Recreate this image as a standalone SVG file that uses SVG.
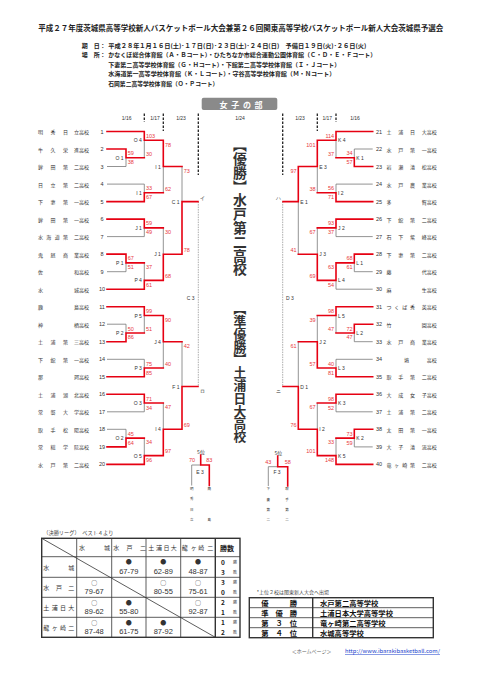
<svg xmlns="http://www.w3.org/2000/svg" width="481" height="680" viewBox="0 0 481 680">
<style>
text{font-family:'Noto Sans CJK JP','Noto Sans',sans-serif;dominant-baseline:central}
.nm{font-size:5px;fill:#333}
.no{font-family:'Liberation Sans',sans-serif;font-size:5.5px;fill:#333;text-anchor:middle}
.sl{font-family:'Liberation Sans',sans-serif;font-size:5.5px;fill:#e8383d}
.sr{font-family:'Liberation Sans',sans-serif;font-size:5.5px;fill:#e8383d;text-anchor:end}
.sc{font-family:'Liberation Sans',sans-serif;font-size:5.5px;fill:#e8383d;text-anchor:middle}
.ml{font-family:'Liberation Sans',sans-serif;font-size:5px;fill:#333;text-anchor:end}
.mr{font-family:'Liberation Sans',sans-serif;font-size:5px;fill:#333}
.mc{font-family:'Liberation Sans',sans-serif;font-size:5px;fill:#333;text-anchor:middle}
.hd{font-size:6px;font-weight:bold;fill:#222}
.dt{font-family:'Liberation Sans',sans-serif;font-size:5px;fill:#333;text-anchor:middle}
.tiny{font-size:3.5px;fill:#333;text-anchor:middle}
.big{font-weight:bold;fill:#333;writing-mode:vertical-rl}
.th{font-size:6px;fill:#333}
.sym{fill:#333;text-anchor:middle}
.scr{font-family:'Liberation Sans',sans-serif;font-size:7.5px;fill:#333;text-anchor:middle}
.res{font-size:7.3px;font-weight:bold;fill:#111}
.resc{font-size:7.3px;font-weight:bold;fill:#111;text-anchor:middle}
.r{fill:none;stroke:#e60012;stroke-width:1.6;stroke-linecap:square}
.g{fill:none;stroke:#777;stroke-width:0.8}
.dash{fill:none;stroke:#222;stroke-width:1.3;stroke-dasharray:2.5 1.5}
.dot{fill:none;stroke:#888;stroke-width:0.7;stroke-dasharray:1.5 1}
.tb{fill:none;stroke:#333;stroke-width:0.8}
.tbo{fill:none;stroke:#333;stroke-width:1.4}
</style>
<rect width="481" height="680" fill="#fff"/>

<g id="header">
<text x="38.3" y="27.3" font-size="7.5" font-weight="bold" fill="#222" textLength="405" lengthAdjust="spacingAndGlyphs">平成２７年度茨城県高等学校新人バスケットボール大会兼第２６回関東高等学校バスケットボール新人大会茨城県予選会</text>
<text class="hd" x="81.7" y="45">期　日：</text>
<text class="hd" x="108.3" y="45" textLength="258" lengthAdjust="spacingAndGlyphs">平成２８年１月１６日(土)･１７日(日)･２３日(土)･２４日(日)　予備日１９日(火)･２６日(火)</text>
<text class="hd" x="81.7" y="54.5">場　所：</text>
<text class="hd" x="108.3" y="54.5" textLength="268" lengthAdjust="spacingAndGlyphs">かなくぼ総合体育館（Ａ・Ｂコート）・ひたちなか市総合運動公園体育館（Ｃ・Ｄ・Ｅ・Ｆコート）</text>
<text class="hd" x="108.3" y="64" textLength="232" lengthAdjust="spacingAndGlyphs">下妻第二高等学校体育館（Ｇ・Ｈコート）・下館第二高等学校体育館（Ｉ・Ｊコート）</text>
<text class="hd" x="108.3" y="73.5" textLength="227" lengthAdjust="spacingAndGlyphs">水海道第一高等学校体育館（Ｋ・Ｌコート）・守谷高等学校体育館（Ｍ・Ｎコート）</text>
<text class="hd" x="108.3" y="83.3" textLength="110" lengthAdjust="spacingAndGlyphs">石岡第二高等学校体育館（Ｏ・Ｐコート）</text>
</g>

<g id="banner">
<rect x="201.7" y="97.7" width="75.6" height="12.3" rx="2" fill="#8a8a8a"/>
<text x="223.5 235.2 246.9 258.6" y="104" font-size="8" font-weight="bold" fill="#fff" text-anchor="middle">女子の部</text>
</g>

<g id="dates">
<text class="dt" x="126.7" y="117.5">1/16</text>
<text class="dt" x="155" y="117.5">1/17</text>
<text class="dt" x="181" y="117.5">1/23</text>
<text class="dt" x="240" y="117.5">1/24</text>
<text class="dt" x="300" y="117.5">1/23</text>
<text class="dt" x="327.3" y="117.5">1/17</text>
<text class="dt" x="355" y="117.5">1/16</text>
</g>

<g id="connectors">
<path class="dash" d="M144.3 113.5V122M163.3 113.5V131M198.3 113.5V175M282.7 113.5V175M317.3 113.5V131M336 113.5V122"/>
<path class="dot" d="M198.3 201.6V386.5M282.7 201.6V386.5"/>
<path class="g" d="M107 166.5H126M107 184.1H144.3M107 236.6H144.3M107 271.7H126M107 324.2H126M107 359.3H144.3M107 411.8H144.3M107 429.3H126
M126 157.8V166.5M144.3 140.3V157.8M144.3 184.1V192.8M163.3 166.5V192.8M144.3 227.9V236.6M126 262.9V271.7M144.3 262.9V280.4M163.3 227.9V254.2M182 166.5V201.6M126 324.2V333M144.3 315.5V333M144.3 359.3V368M163.3 341.7V368M144.3 403V411.8M126 429.3V438.1M144.3 438.1V455.6M163.3 403V429.3M182 341.7V386.5
M372.7 149H354.3M372.7 184.1H336M372.7 236.6H336M372.7 271.7H354.3M372.7 289.2H336M372.7 341.7H354.3M372.7 359.3H336M372.7 411.8H336M372.7 446.9H354.3
M354.3 149V157.8M336 140.3V157.8M336 184.1V192.8M317.3 166.5V192.8M336 227.9V236.6M354.3 262.9V271.7M336 280.4V289.2M317.3 227.9V254.2M298.3 201.6V254.2M354.3 333V341.7M336 315.5V333M336 359.3V368M317.3 315.5V341.7M336 403V411.8M354.3 438.1V446.9M336 438.1V455.6M317.3 403V429.3M298.3 341.7V386.5
M200.7 465H191.7V485.5M277.7 466.7H268.3V486"/>
<path class="r" d="M107 131.5H144.3M107 149H126M107 201.6H144.3M107 219.1H144.3M107 254.1H126M107 289.2H144.3M107 306.7H144.3M107 341.7H126M107 376.8H144.3M107 394.3H144.3M107 446.9H126M107 464.4H144.3
M126 149V157.8H144.3M144.3 131.5V140.3H163.3M144.3 201.6V192.8H163.3M163.3 140.3V166.5H182M144.3 219.1V227.9H163.3M126 254.1V262.9H144.3M144.3 289.2V280.4H163.3M163.3 280.4V254.2H182M182 254.2V201.6H198M126 341.7V333H144.3M144.3 306.7V315.5H163.3M144.3 376.8V368H163.3M163.3 315.5V341.7H182M144.3 394.3V403H163.3M126 446.9V438.1H144.3M144.3 464.4V455.6H163.3M163.3 455.6V429.3H182M182 429.3V386.5H198
M372.7 131.5H336M372.7 166.5H354.3M372.7 201.6H336M372.7 219.1H336M372.7 254.1H354.3M372.7 306.7H336M372.7 324.2H354.3M372.7 376.8H336M372.7 394.3H336M372.7 429.3H354.3M372.7 464.4H336
M354.3 166.5V157.8H336M336 131.5V140.3H317.3M336 201.6V192.8H317.3M317.3 140.3V166.5H298.3M336 219.1V227.9H317.3M354.3 254.1V262.9H336M336 262.9V280.4H317.3M317.3 280.4V254.2H298.3M298.3 166.5V201.6H283M354.3 324.2V333H336M336 306.7V315.5H317.3M336 376.8V368H317.3M317.3 368V341.7H298.3M336 394.3V403H317.3M354.3 429.3V438.1H336M336 464.4V455.6H317.3M317.3 455.6V429.3H298.3M298.3 429.3V386.5H283
M200.7 455V465H209.3V485.5M277.7 456V466.7H287.7V486"/>
</g>

<g id="t1"><text class="nm" x="38 50.5 63 74" y="131.5">明秀日立高校</text><text class="no" x="102" y="131.5">1</text></g>
<g id="t2"><text class="nm" x="38 50.5 63 74" y="149">牛久栄進高校</text><text class="no" x="102" y="149">2</text></g>
<g id="t3"><text class="nm" x="38 50.5 63 74" y="166.5">鉾田第二高校</text><text class="no" x="102" y="166.5">3</text></g>
<g id="t4"><text class="nm" x="38 50.5 63 74" y="184.1">日立第二高校</text><text class="no" x="102" y="184.1">4</text></g>
<g id="t5"><text class="nm" x="38 50.5 63 74" y="201.6">下妻第一高校</text><text class="no" x="102" y="201.6">5</text></g>
<g id="t6"><text class="nm" x="38 50.5 63 74" y="219.1">鉾田第一高校</text><text class="no" x="102" y="219.1">6</text></g>
<g id="t7"><text class="nm" x="38 46.3 54.7 63 74" y="236.6">水海道第二高校</text><text class="no" x="102" y="236.6">7</text></g>
<g id="t8"><text class="nm" x="38 50.5 63 74" y="254.1">鬼怒商業高校</text><text class="no" x="102" y="254.1">8</text></g>
<g id="t9"><text class="nm" x="38 74" y="271.7">佐和高校</text><text class="no" x="102" y="271.7">9</text></g>
<g id="t10"><text class="nm" x="38 74" y="289.2">水城高校</text><text class="no" x="102" y="289.2">10</text></g>
<g id="t11"><text class="nm" x="38 74" y="306.7">鹿島高校</text><text class="no" x="102" y="306.7">11</text></g>
<g id="t12"><text class="nm" x="38 74" y="324.2">神栖高校</text><text class="no" x="102" y="324.2">12</text></g>
<g id="t13"><text class="nm" x="38 50.5 63 74" y="341.7">土浦第三高校</text><text class="no" x="102" y="341.7">13</text></g>
<g id="t14"><text class="nm" x="38 50.5 63 74" y="359.3">下館第一高校</text><text class="no" x="102" y="359.3">14</text></g>
<g id="t15"><text class="nm" x="38 74" y="376.8">那珂高校</text><text class="no" x="102" y="376.8">15</text></g>
<g id="t16"><text class="nm" x="38 50.5 63 74" y="394.3">土浦湖北高校</text><text class="no" x="102" y="394.3">16</text></g>
<g id="t17"><text class="nm" x="38 50.5 63 74" y="411.8">常磐大学高校</text><text class="no" x="102" y="411.8">17</text></g>
<g id="t18"><text class="nm" x="38 50.5 63 74" y="429.3">取手松陽高校</text><text class="no" x="102" y="429.3">18</text></g>
<g id="t19"><text class="nm" x="38 50.5 63 74" y="446.9">常総学院高校</text><text class="no" x="102" y="446.9">19</text></g>
<g id="t20"><text class="nm" x="38 50.5 63 74" y="464.4">水戸第二高校</text><text class="no" x="102" y="464.4">20</text></g>

<g id="t21"><text class="no" x="379" y="131.5">21</text><text class="nm" x="386.5 398.2 410 421.7" y="131.5">土浦日大高校</text></g>
<g id="t22"><text class="no" x="379" y="149">22</text><text class="nm" x="386.5 398.2 410 421.7" y="149">水戸第一高校</text></g>
<g id="t23"><text class="no" x="379" y="166.5">23</text><text class="nm" x="386.5 398.2 410 421.7" y="166.5">岩瀬清松高校</text></g>
<g id="t24"><text class="no" x="379" y="184.1">24</text><text class="nm" x="386.5 398.2 410 421.7" y="184.1">水戸農業高校</text></g>
<g id="t25"><text class="no" x="379" y="201.6">25</text><text class="nm" x="386.5 421.7" y="201.6">多賀高校</text></g>
<g id="t26"><text class="no" x="379" y="219.1">26</text><text class="nm" x="386.5 398.2 410 421.7" y="219.1">下館第二高校</text></g>
<g id="t27"><text class="no" x="379" y="236.6">27</text><text class="nm" x="386.5 398.2 410 421.7" y="236.6">石下紫峰高校</text></g>
<g id="t28"><text class="no" x="379" y="254.1">28</text><text class="nm" x="386.5 398.2 410 421.7" y="254.1">下妻第二高校</text></g>
<g id="t29"><text class="no" x="379" y="271.7">29</text><text class="nm" x="386.5 421.7" y="271.7">藤代高校</text></g>
<g id="t30"><text class="no" x="379" y="289.2">30</text><text class="nm" x="386.5 421.7" y="289.2">麻生高校</text></g>
<g id="t31"><text class="no" x="379" y="306.7">31</text><text class="nm" x="386.5 394.3 402.2 410 421.7" y="306.7">つくば秀英高校</text></g>
<g id="t32"><text class="no" x="379" y="324.2">32</text><text class="nm" x="386.5 421.7" y="324.2">竹園高校</text></g>
<g id="t33"><text class="no" x="379" y="341.7">33</text><text class="nm" x="386.5 398.2 410 421.7" y="341.7">水戸商業高校</text></g>
<g id="t34"><text class="no" x="379" y="359.3">34</text><text class="nm" x="404 426.7" y="359.3">境高校</text></g>
<g id="t35"><text class="no" x="379" y="376.8">35</text><text class="nm" x="386.5 398.2 410 421.7" y="376.8">取手第二高校</text></g>
<g id="t36"><text class="no" x="379" y="394.3">36</text><text class="nm" x="386.5 398.2 410 421.7" y="394.3">大成女子高校</text></g>
<g id="t37"><text class="no" x="379" y="411.8">37</text><text class="nm" x="386.5 398.2 410 421.7" y="411.8">土浦第二高校</text></g>
<g id="t38"><text class="no" x="379" y="429.3">38</text><text class="nm" x="386.5 398.2 410 421.7" y="429.3">太田第一高校</text></g>
<g id="t39"><text class="no" x="379" y="446.9">39</text><text class="nm" x="386.5 398.2 410 421.7" y="446.9">大子清流高校</text></g>
<g id="t40"><text class="no" x="379" y="464.4">40</text><text class="nm" x="386.5 394.3 402.2 410 421.7" y="464.4">竜ヶ崎第二高校</text></g>

<g id="mO1"><text class="ml" x="123.5" y="157.8">O 1</text><text class="sl" x="127.8" y="153.3">59</text><text class="sl" x="127.8" y="162.2">38</text></g>
<g id="mO4"><text class="ml" x="141.8" y="140.3">O 4</text><text class="sl" x="146" y="135.8">103</text><text class="sl" x="146" y="153.5">30</text></g>
<g id="mI1a"><text class="ml" x="141.8" y="192.8">I 1</text><text class="sl" x="146" y="188.4">33</text><text class="sl" x="146" y="197.3">67</text></g>
<g id="mI1b"><text class="ml" x="160.8" y="166.5">I 1</text><text class="sl" x="165" y="144.6">78</text><text class="sl" x="165" y="188.5">62</text></g>
<g id="mJ1a"><text class="ml" x="141.8" y="227.9">J 1</text><text class="sl" x="146" y="223.4">59</text><text class="sl" x="146" y="232.3">49</text></g>
<g id="mP1"><text class="ml" x="123.5" y="262.9">P 1</text><text class="sl" x="127.8" y="258.4">67</text><text class="sl" x="127.8" y="267.4">51</text></g>
<g id="mP4"><text class="ml" x="141.8" y="280.4">P 4</text><text class="sl" x="146" y="267.2">37</text><text class="sl" x="146" y="284.9">61</text></g>
<g id="mJ1b"><text class="ml" x="160.8" y="254.2">J 1</text><text class="sl" x="165" y="232.2">30</text><text class="sl" x="165" y="276.1">68</text></g>
<g id="mC1"><text class="ml" x="179.5" y="201.6">C 1</text><text class="sl" x="183.8" y="170.8">73</text><text class="sl" x="183.8" y="249.9">78</text><text class="mr" x="199.5" y="198">イ</text></g>
<g id="mP2"><text class="ml" x="123.5" y="333">P 2</text><text class="sl" x="127.8" y="328.5">50</text><text class="sl" x="127.8" y="337.4">86</text></g>
<g id="mP5"><text class="ml" x="141.8" y="315.5">P 5</text><text class="sl" x="146" y="311">99</text><text class="sl" x="146" y="328.7">51</text></g>
<g id="mP3"><text class="ml" x="141.8" y="368">P 3</text><text class="sl" x="146" y="363.6">75</text><text class="sl" x="146" y="372.5">85</text></g>
<g id="mJ4"><text class="ml" x="160.8" y="341.7">J 4</text><text class="sl" x="165" y="319.8">90</text><text class="sl" x="165" y="363.7">40</text></g>
<g id="mO3"><text class="ml" x="141.8" y="403">O 3</text><text class="sl" x="146" y="398.6">71</text><text class="sl" x="146" y="407.5">34</text></g>
<g id="mO2"><text class="ml" x="123.5" y="438.1">O 2</text><text class="sl" x="127.8" y="433.6">45</text><text class="sl" x="127.8" y="442.6">64</text></g>
<g id="mO5"><text class="ml" x="141.8" y="455.6">O 5</text><text class="sl" x="146" y="442.4">34</text><text class="sl" x="146" y="460.1">96</text></g>
<g id="mI4"><text class="ml" x="160.8" y="429.3">I 4</text><text class="sl" x="165" y="407.3">47</text><text class="sl" x="165" y="451.3">97</text></g>
<g id="mF1"><text class="ml" x="179.5" y="386.5">F 1</text><text class="sl" x="183.8" y="346">42</text><text class="sl" x="183.8" y="425">69</text><text class="mr" x="199.5" y="391">ロ</text></g>
<g id="mC3"><text class="mc" x="190.7" y="298.3">C 3</text></g>

<g id="mK1"><text class="mr" x="356.3" y="157.8">K 1</text><text class="sr" x="352.5" y="153.3">34</text><text class="sr" x="352.5" y="162.2">57</text></g>
<g id="mK4"><text class="mr" x="338" y="140.3">K 4</text><text class="sr" x="334.2" y="135.8">114</text><text class="sr" x="334.2" y="153.5">37</text></g>
<g id="mI2a"><text class="mr" x="338" y="192.8">I 2</text><text class="sr" x="334.2" y="188.4">56</text><text class="sr" x="334.2" y="197.3">71</text></g>
<g id="mE3"><text class="mr" x="319.3" y="166.5">E 3</text><text class="sr" x="315.5" y="144.6">101</text><text class="sr" x="315.5" y="188.5">38</text></g>
<g id="mJ2a"><text class="mr" x="338" y="227.9">J 2</text><text class="sr" x="334.2" y="223.4">93</text><text class="sr" x="334.2" y="232.3">37</text></g>
<g id="mL1"><text class="mr" x="356.3" y="262.9">L 1</text><text class="sr" x="352.5" y="258.4">68</text><text class="sr" x="352.5" y="267.4">61</text></g>
<g id="mL4"><text class="mr" x="338" y="280.4">L 4</text><text class="sr" x="334.2" y="267.2">63</text><text class="sr" x="334.2" y="284.9">54</text></g>
<g id="mJ3"><text class="mr" x="319.3" y="254.2">J 3</text><text class="sr" x="315.5" y="232.2">67</text><text class="sr" x="315.5" y="276.1">69</text></g>
<g id="mE1"><text class="mr" x="300.3" y="201.6">E 1</text><text class="sr" x="296.5" y="170.8">97</text><text class="sr" x="296.5" y="249.9">41</text><text class="ml" x="281" y="198">ハ</text></g>
<g id="mL2"><text class="mr" x="356.3" y="333">L 2</text><text class="sr" x="352.5" y="328.5">72</text><text class="sr" x="352.5" y="337.4">47</text></g>
<g id="mL5"><text class="mr" x="338" y="315.5">L 5</text><text class="sr" x="334.2" y="311">98</text><text class="sr" x="334.2" y="328.7">47</text></g>
<g id="mL3"><text class="mr" x="338" y="368">L 3</text><text class="sr" x="334.2" y="363.6">40</text><text class="sr" x="334.2" y="372.5">81</text></g>
<g id="mJ2b"><text class="mr" x="319.3" y="341.7">J 2</text><text class="sr" x="315.5" y="319.8">39</text><text class="sr" x="315.5" y="363.7">57</text></g>
<g id="mK3"><text class="mr" x="338" y="403">K 3</text><text class="sr" x="334.2" y="398.6">98</text><text class="sr" x="334.2" y="407.5">52</text></g>
<g id="mK2"><text class="mr" x="356.3" y="438.1">K 2</text><text class="sr" x="352.5" y="433.6">73</text><text class="sr" x="352.5" y="442.6">59</text></g>
<g id="mK5"><text class="mr" x="338" y="455.6">K 5</text><text class="sr" x="334.2" y="442.4">33</text><text class="sr" x="334.2" y="460.1">148</text></g>
<g id="mI2b"><text class="mr" x="319.3" y="429.3">I 2</text><text class="sr" x="315.5" y="407.3">67</text><text class="sr" x="315.5" y="451.3">101</text></g>
<g id="mD1"><text class="mr" x="300.3" y="386.5">D 1</text><text class="sr" x="296.5" y="346">61</text><text class="sr" x="296.5" y="425">76</text><text class="ml" x="281" y="391">ニ</text></g>
<g id="mD3"><text class="mc" x="290" y="298.3">D 3</text></g>

<g id="champion">
<text class="big" x="240" y="138" font-size="13.8">【優勝】水戸第二高校</text>
<text class="big" x="240" y="302" font-size="12.8">【準優勝】土浦日大高校</text>
</g>

<g id="mE3-5th">
<text x="201" y="451.7" font-size="5" fill="#333" text-anchor="middle">5位</text>
<text class="sc" x="192" y="460">70</text><text class="sc" x="209.3" y="460">83</text>
<text class="mc" x="200" y="471.7">E 3</text>
<text class="tiny" x="191.7 191.7 191.7 191.7" y="488 498 509 519">明秀日立</text>
<text class="tiny" x="209.3 209.3" y="488 519">鹿島</text>
</g>
<g id="mF3-5th">
<text x="278.3" y="452.3" font-size="5" fill="#333" text-anchor="middle">5位</text>
<text class="sc" x="268.3" y="462">43</text><text class="sc" x="287.7" y="462">58</text>
<text class="mc" x="277" y="471.7">F 3</text>
<text class="tiny" x="268.3 268.3 268.3 268.3" y="488 499 509 519">下妻第二</text>
<text class="tiny" x="287 287 287 287" y="488 499 509 519">取手第二</text>
</g>

<g id="league">
<text x="43.3" y="532.3" font-size="5.2" fill="#444">（決勝リーグ）　ベスト４より</text>
<rect class="tbo" x="41.7" y="538.3" width="198.3" height="99"/>
<path class="tb" d="M76.7 538.3V637.3M111.7 538.3V637.3M146 538.3V637.3M180.7 538.3V637.3M41.7 556.7H240M41.7 577.3H240M41.7 597.3H240M41.7 617.3H240"/>
<path class="tbo" d="M215.3 538.3V637.3"/>
<path class="tb" d="M41.7 538.3L215.3 637.3"/>
<text class="th" x="79 104" y="547.5">水城</text>
<text class="th" x="113.3 126.5 140" y="547.5">水戸二</text>
<text class="th" x="148.3 156 163.5 170.8" y="547.5">土浦日大</text>
<text class="th" x="181.7 190.7 198.3 207.3" y="547.5">龍ヶ崎二</text>
<text x="227" y="547.5" font-size="7" font-weight="bold" fill="#222" text-anchor="middle">勝数</text>
<text class="th" x="43.3 68.3" y="567">水城</text>
<text class="th" x="43.3 56 68.3" y="587.3">水戸二</text>
<text class="th" x="43.3 51.7 60 68.3" y="607.3">土浦日大</text>
<text class="th" x="43.3 51.7 60 68.3" y="627.3">龍ヶ崎二</text>
<g font-size="6">
<text class="sym" x="128.8" y="561.7">●</text><text class="sym" x="163.3" y="561.7">●</text><text class="sym" x="198" y="561.7">●</text>
<text class="sym" x="94.2" y="582">○</text><text class="sym" x="163.3" y="582">○</text><text class="sym" x="198" y="582">○</text>
<text class="sym" x="94.2" y="602">○</text><text class="sym" x="128.8" y="602">●</text><text class="sym" x="198" y="602">○</text>
<text class="sym" x="94.2" y="622">○</text><text class="sym" x="128.8" y="622">●</text><text class="sym" x="163.3" y="622">●</text>
</g>
<text class="scr" x="128.8" y="571.8">67-79</text><text class="scr" x="163.3" y="571.8">62-89</text><text class="scr" x="198" y="571.8">48-87</text>
<text class="scr" x="94.2" y="591.8">79-67</text><text class="scr" x="163.3" y="591.8">80-55</text><text class="scr" x="198" y="591.8">75-61</text>
<text class="scr" x="94.2" y="611.8">89-62</text><text class="scr" x="128.8" y="611.8">55-80</text><text class="scr" x="198" y="611.8">92-87</text>
<text class="scr" x="94.2" y="631.8">87-48</text><text class="scr" x="128.8" y="631.8">61-75</text><text class="scr" x="163.3" y="631.8">87-92</text>
<g font-family="'Liberation Sans',sans-serif" font-size="6.5" font-weight="bold" fill="#222" text-anchor="middle">
<text x="222.8" y="561.7">0</text><text x="222.8" y="571.8">3</text>
<text x="222.8" y="582">3</text><text x="222.8" y="591.8">0</text>
<text x="222.8" y="602">2</text><text x="222.8" y="611.8">1</text>
<text x="222.8" y="622">1</text><text x="222.8" y="631.8">2</text>
</g>
<g font-size="4" fill="#444" text-anchor="middle">
<text x="235" y="561.7">勝</text><text x="235" y="571.8">敗</text>
<text x="235" y="582">勝</text><text x="235" y="591.8">敗</text>
<text x="235" y="602">勝</text><text x="235" y="611.8">敗</text>
<text x="235" y="622">勝</text><text x="235" y="631.8">敗</text>
</g>
</g>

<g id="results">
<text x="256.7" y="591.7" font-size="5" fill="#444">*上位２校は関東新人大会へ出場</text>
<rect class="tbo" x="249.3" y="597.7" width="184" height="40"/>
<path class="tb" d="M249.3 607.7H433.3M249.3 617.7H433.3M249.3 627.7H433.3"/>
<path class="tbo" d="M312.7 597.7V637.7"/>
<text class="resc" x="265 293.3" y="602.7">優勝</text>
<text class="resc" x="265 279.2 293.3" y="612.7">準優勝</text>
<text class="resc" x="265 279.2 293.3" y="622.7">第３位</text>
<text class="resc" x="265 279.2 293.3" y="632.7">第４位</text>
<text class="res" x="320" y="602.7">水戸第二高等学校</text>
<text class="res" x="320" y="612.7">土浦日本大学高等学校</text>
<text class="res" x="320" y="622.7">竜ヶ崎第二高等学校</text>
<text class="res" x="320" y="632.7">水城高等学校</text>
</g>

<g id="footer">
<text x="291.7" y="650.5" font-size="5" fill="#666">＜ホームページ＞</text>
<text x="345" y="650.5" font-family="'Liberation Sans',sans-serif" font-size="5.2" fill="#1a3fcc" text-decoration="underline" textLength="95" lengthAdjust="spacingAndGlyphs">http://www.ibarakibasketball.com/</text>
</g>
</svg>
